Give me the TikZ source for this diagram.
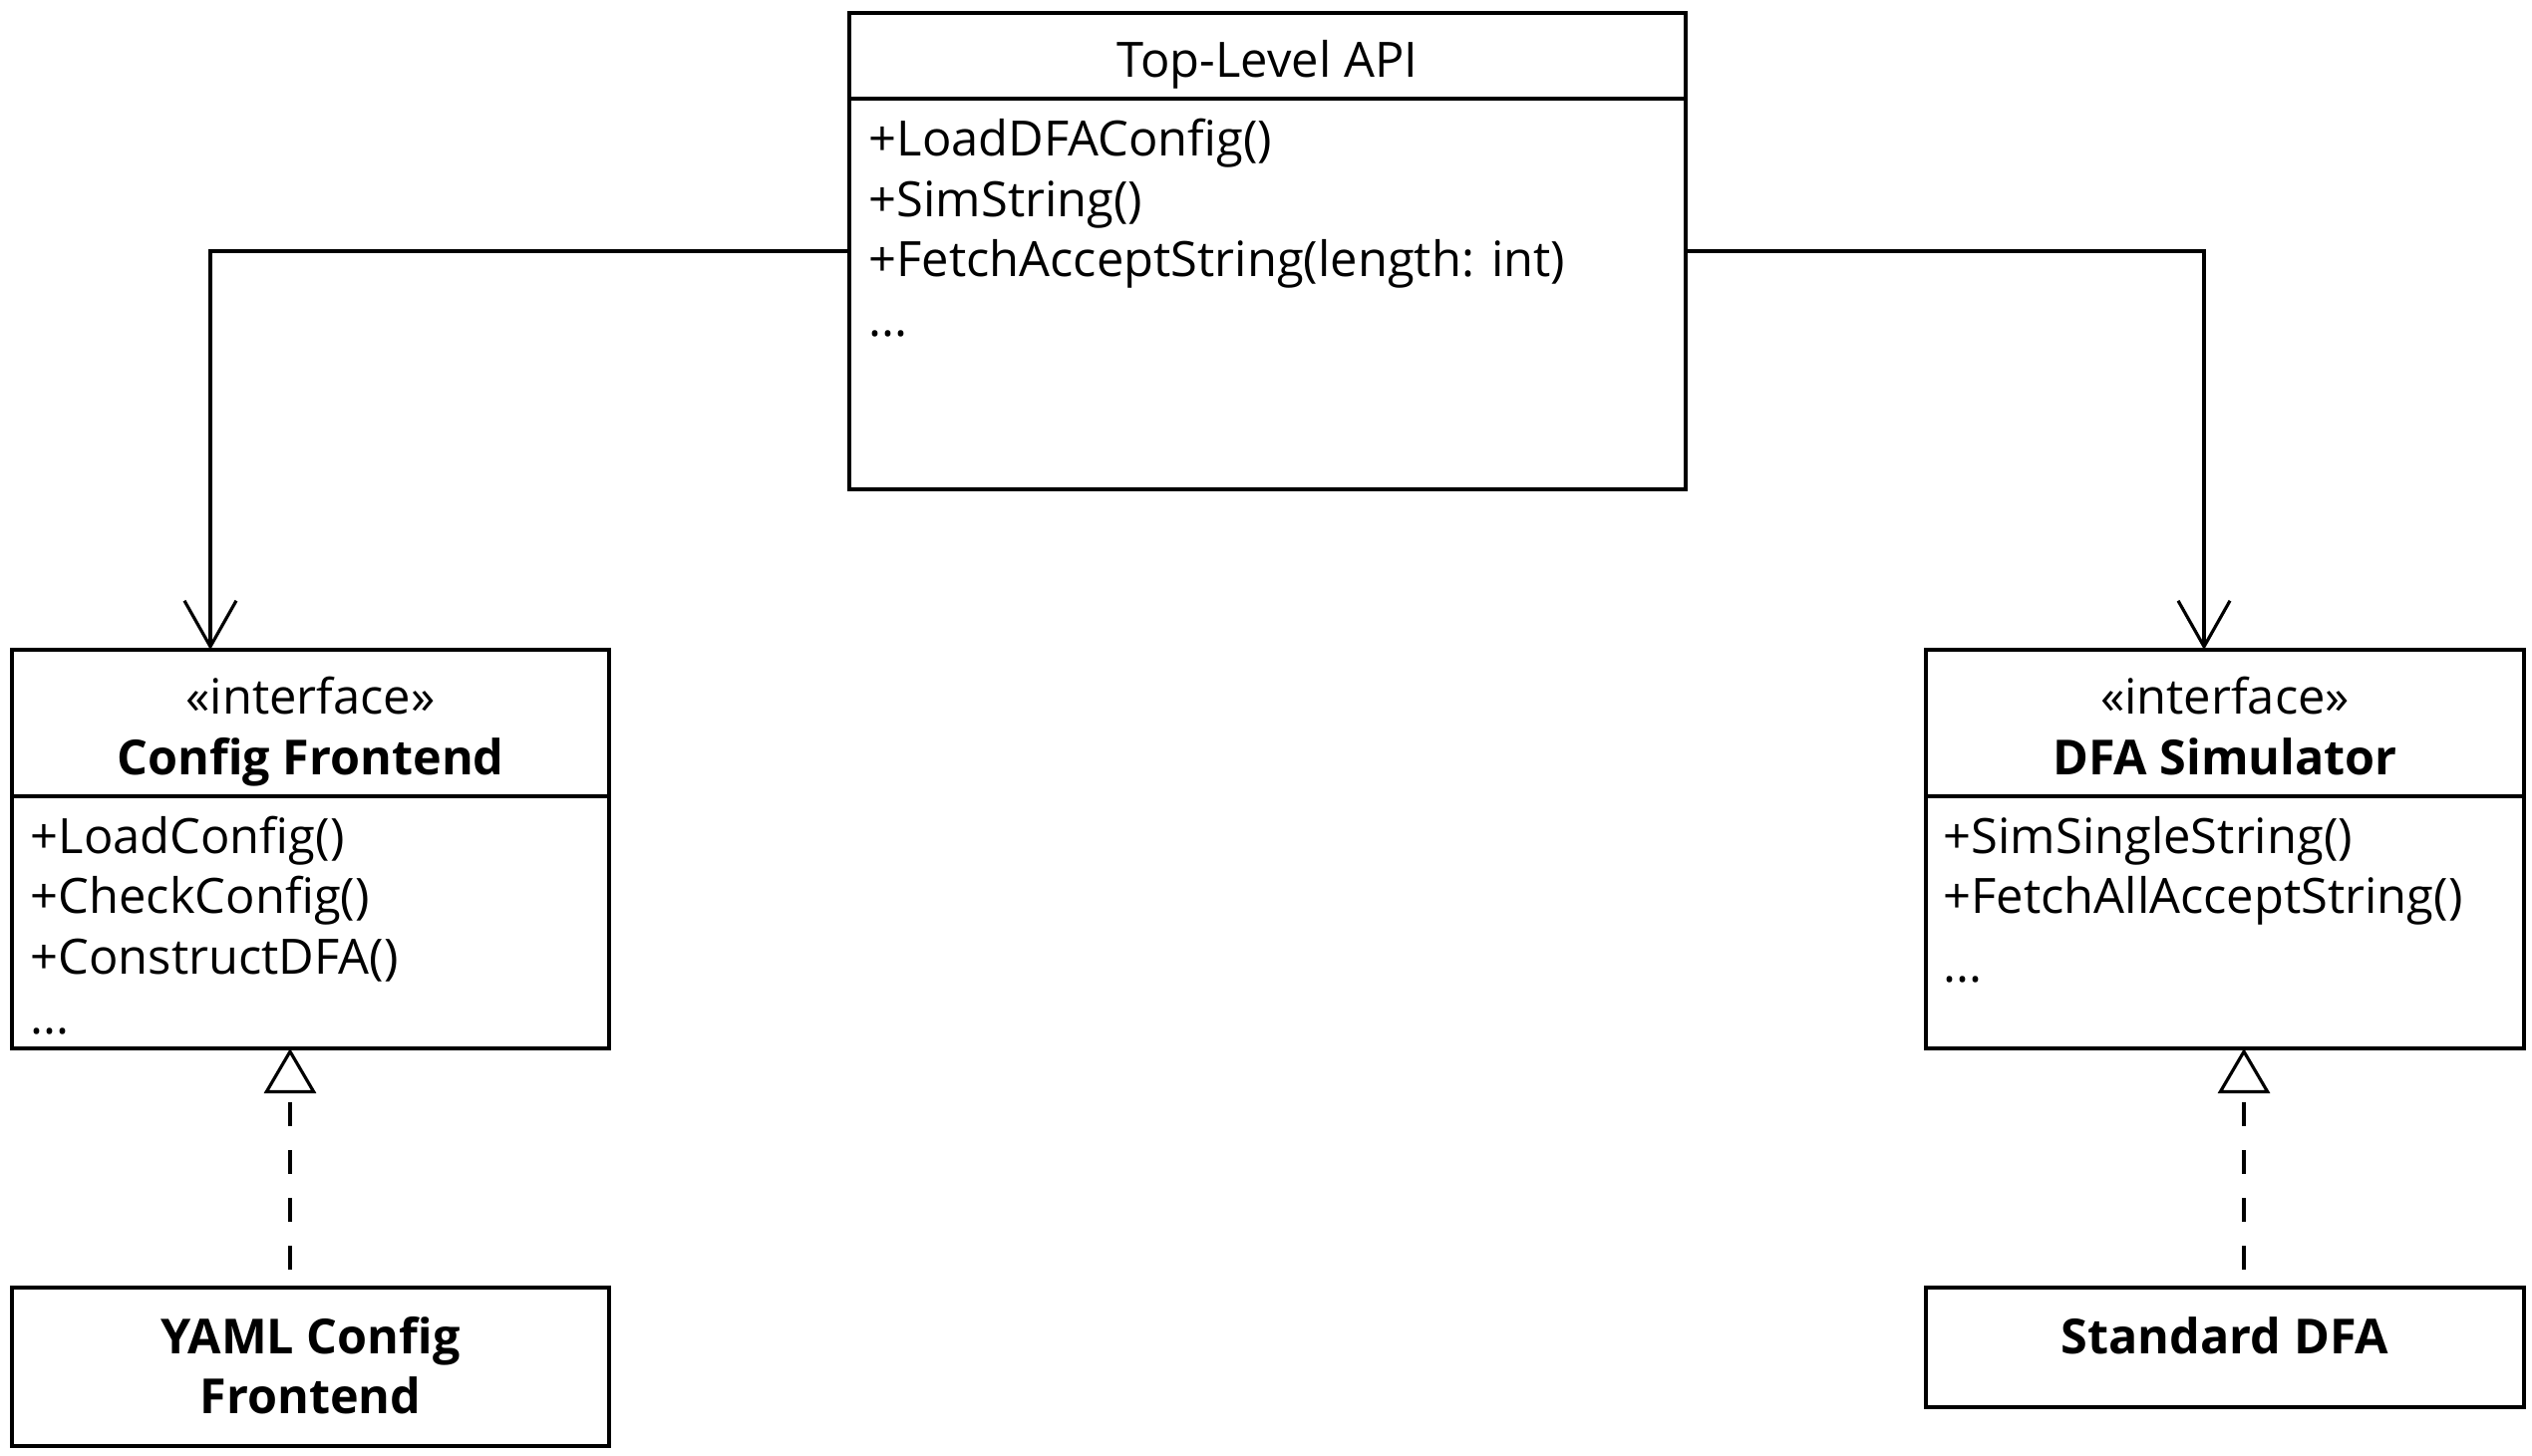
\documentclass[tikz,border=0pt]{standalone}
\usepackage{fontspec}
\setmainfont{Open Sans}
\usetikzlibrary{arrows.meta}

\begin{document}
\begin{tikzpicture}[
    box/.style={draw, line width=0.9pt, inner sep=0pt},
    txt/.style={anchor=base west, inner sep=0pt, font=\fontsize{13.9}{16}\selectfont},
    ttl/.style={anchor=base, inner sep=0pt, font=\fontsize{13.9}{16}\selectfont},
    bttl/.style={anchor=base, inner sep=0pt, font=\fontsize{13.8}{16}\selectfont\bfseries},
    assoc/.style={line width=0.9pt, -{Straight Barb[length=0.46cm, width=0.52cm]}},
    realize/.style={line width=0.9pt, dash pattern=on 0.24cm off 0.24cm, dash phase=0.30cm,
        -{Triangle[open, length=0.45cm, width=0.52cm, fill=white]}}
]
    \useasboundingbox (0,0) rectangle (25.4,14.6);

    % top level class
    \node[box, minimum width=8.39cm, minimum height=4.78cm] (api) at (12.715,12.08) {};
    \draw[line width=0.9pt] (8.52,13.61) -- (16.91,13.61);
    \node[ttl] (apiname) at (12.715,13.82) {Top-Level API};
    \node[txt] (api1) at (8.71,13.03) {+LoadDFAConfig()};
    \node[txt] (api2) at (8.71,12.42) {+SimString()};
    \node[txt] (api3) at (8.71,11.82) {+FetchAcceptString(length: int)};
    \node[txt] (api4) at (8.71,11.22) {...};

    % interfaces
    \node[box, minimum width=5.99cm, minimum height=4.0cm] (cfg) at (3.115,6.08) {};
    \draw[line width=0.9pt] (0.12,6.61) -- (6.11,6.61);
    \node[ttl] (cfgst) at (3.115,7.43) {«interface»};
    \node[bttl] (cfgname) at (3.115,6.82) {Config Frontend};
    \node[txt] (cfg1) at (0.30,6.03) {+LoadConfig()};
    \node[txt] (cfg2) at (0.30,5.43) {+CheckConfig()};
    \node[txt] (cfg3) at (0.30,4.83) {+ConstructDFA()};
    \node[txt] (cfg4) at (0.30,4.22) {...};

    \node[box, minimum width=6.0cm, minimum height=4.0cm] (sim) at (22.32,6.08) {};
    \draw[line width=0.9pt] (19.32,6.61) -- (25.32,6.61);
    \node[ttl] (simst) at (22.32,7.43) {«interface»};
    \node[bttl] (simname) at (22.32,6.82) {DFA Simulator};
    \node[txt] (sim1) at (19.49,6.03) {+SimSingleString()};
    \node[txt] (sim2) at (19.49,5.43) {+FetchAllAcceptString()};
    \node[txt] (sim3) at (19.49,4.75) {...};

    % implementations
    \node[box, minimum width=5.99cm, minimum height=1.59cm] (yaml) at (3.115,0.885) {};
    \node[bttl] (yamlname1) at (3.115,1.02) {YAML Config};
    \node[bttl] (yamlname2) at (3.115,0.42) {Frontend};
    \node[box, minimum width=6.0cm, minimum height=1.2cm] (std) at (22.32,1.08) {};
    \node[bttl] (stdname) at (22.32,1.02) {Standard DFA};

    % connectors
    \coordinate (cfgin) at (2.11,8.08);
    \coordinate (simin) at (22.11,8.08);
    \draw[assoc] (api.west) -| (cfgin);
    \draw[assoc] (api.east) -| (simin);
    \coordinate (yamlout) at (2.91,1.68);
    \coordinate (cfgout) at (2.91,4.08);
    \coordinate (stdout) at (22.51,1.68);
    \coordinate (simout) at (22.51,4.08);
    \draw[realize] (yamlout) -- (cfgout);
    \draw[realize] (stdout) -- (simout);
\end{tikzpicture}
\end{document}
